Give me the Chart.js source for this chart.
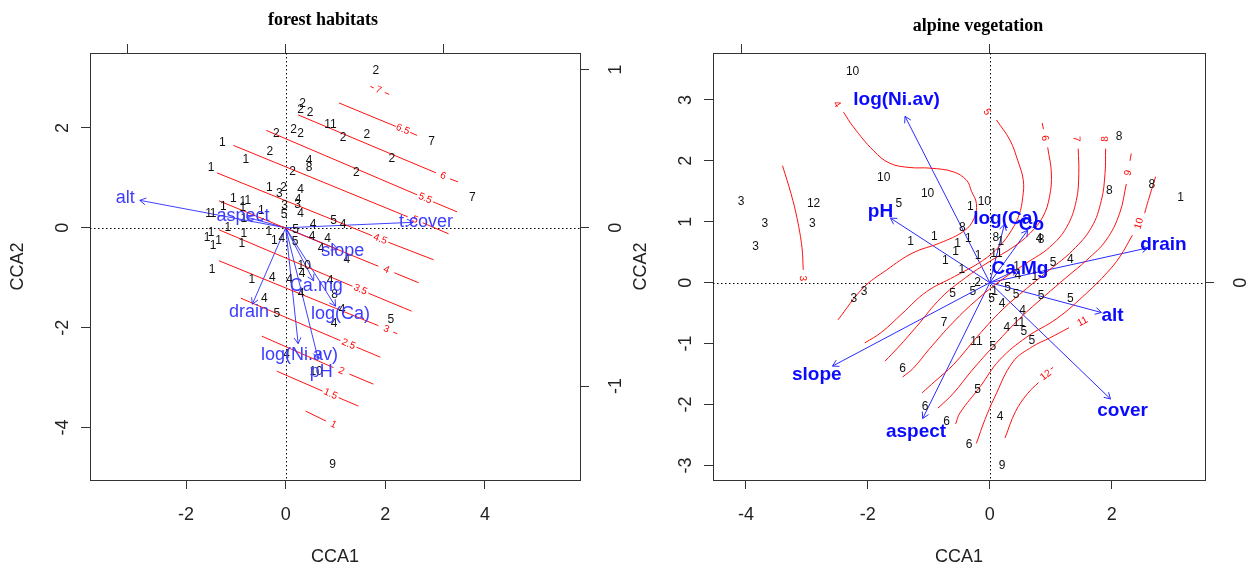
<!DOCTYPE html>
<html>
<head>
<meta charset="utf-8">
<script src="https://cdn.jsdelivr.net/npm/chart.js@4.4.1/dist/chart.umd.min.js"></script>
<style>
  html, body { margin: 0; padding: 0; background: #fff; }
  #wrap { position: relative; width: 1249px; height: 569px; }
  canvas { position: absolute; top: 0; }
  #forest { left: 0; }
  #alpine { left: 624px; }
</style>
</head>
<body>
<div id="wrap">
  <canvas id="forest" width="624" height="569"></canvas>
  <canvas id="alpine" width="625" height="569"></canvas>
</div>
<script>
// ---------- forest habitats ----------
const forestSiteX = [1.81,0.34,0.30,0.49,0.90,0.16,0.30,-0.19,1.15,1.63,2.93,-1.27,-0.32,-0.80,2.13,0.47,0.47,-1.50,0.14,1.42,-0.33,-0.04,-0.13,0.30,3.75,-1.05,-0.86,-0.76,0.25,0.24,-0.02,-1.25,-0.86,0.30,-0.03,-0.49,-1.55,-1.46,-0.84,0.55,0.96,1.15,-1.16,-0.84,-0.34,-1.50,-1.58,-1.35,-1.46,-0.88,-0.23,-0.08,0.20,0.19,0.53,0.84,0.71,1.23,-1.48,0.37,0.33,-0.68,-0.27,0.08,0.89,0.31,0.98,-0.43,1.13,-0.18,2.11,0.97,0.02,0.61,0.94];
const forestSiteY = [3.14,2.48,2.37,2.31,2.07,1.97,1.88,1.88,1.80,1.86,1.72,1.70,1.53,1.37,1.39,1.35,1.20,1.20,1.13,1.10,0.80,0.80,0.68,0.77,0.61,0.58,0.53,0.55,0.56,0.47,0.44,0.42,0.40,0.28,0.27,0.34,0.29,0.29,0.18,0.07,0.15,0.07,0.00,-0.11,-0.07,-0.09,-0.20,-0.26,-0.36,-0.31,-0.26,-0.22,-0.04,-0.27,-0.17,-0.22,-0.42,-0.64,-0.84,-0.75,-0.91,-1.04,-1.00,-1.04,-1.06,-1.31,-1.34,-1.41,-1.64,-1.72,-1.84,-1.93,-2.55,-2.88,-4.74];
const forestSiteLab = ['2','2','2','2','11','2','2','2','2','2','7','1','2','1','2','4','8','1','2','2','1','2','3','4','7','1','1','1','4','3','3','1','1','4','5','1','1','1','1','4','5','4','1','1','1','1','1','1','1','1','1','4','5','5','4','4','4','4','1','10','4','1','4','4','4','4','8','4','4','5','5','4','4','10','9'];

const forestVars = ['alt','aspect','t.cover','slope','Ca.mg','log(Ca)','drain','log(Ni.av)','pH'];
const forestVarX = [-2.93,-0.78,2.56,1.04,0.56,1.00,-0.67,0.25,0.65];
const forestVarY = [0.55,0.21,0.11,-0.43,-1.06,-1.57,-1.53,-2.32,-2.62];

const forestLevels = ['7','6.5','6','5.5','5','4.5','4','3.5','3','2.5','2','1.5','1'];
// null splits a contour where its label sits
const forestPaths = [
  [[1.70,2.83],[1.77,2.80],null,[1.99,2.71],[2.08,2.67]],
  [[1.07,2.50],[2.21,2.03],null,[2.50,1.91],[2.64,1.85]],
  [[0.25,2.26],[3.02,1.10],null,[3.30,0.98],[3.46,0.92]],
  [[-0.39,1.95],[2.64,0.66],null,[2.96,0.52],[3.44,0.32]],
  [[-1.05,1.65],[2.45,0.22],null,[2.75,0.10],[3.27,-0.12]],
  [[-1.38,1.10],[1.74,-0.16],null,[2.06,-0.29],[2.97,-0.64]],
  [[-1.34,0.54],[1.86,-0.77],null,[2.18,-0.90],[2.67,-1.10]],
  [[-1.34,-0.04],[1.34,-1.17],null,[1.66,-1.31],[2.53,-1.67]],
  [[-1.34,-0.66],[1.86,-1.96],null,[2.16,-2.09],[2.24,-2.12]],
  [[-0.90,-1.41],[1.10,-2.26],null,[1.42,-2.39],[1.90,-2.59]],
  [[-0.48,-2.17],[0.96,-2.80],null,[1.28,-2.93],[1.76,-3.13]],
  [[-0.18,-2.87],[0.74,-3.27],null,[1.06,-3.40],[1.46,-3.57]],
  [[0.40,-3.67],[0.81,-3.87]]
];
const forestLabelAt = [[1.86,2.76],[2.35,1.97],[3.16,1.04],[2.80,0.59],[2.60,0.16],[1.90,-0.23],[2.02,-0.84],[1.50,-1.24],[2.02,-2.03],[1.26,-2.33],[1.12,-2.87],[0.90,-3.33],[0.96,-3.94]];

const forestTicksX = [-2, 0, 2, 4];
const forestTicksY = [-4, -2, 0, 2];
const forestTicksTop = [-1, 0, 1];
const forestTicksRight = [-1, 0, 1];

// ---------- alpine vegetation ----------
const alpineSiteX = [-2.25,-1.74,-1.02,-4.08,-2.89,-1.49,-0.32,-0.09,-3.69,-2.91,-0.45,-3.84,-1.30,-0.91,-0.53,-0.35,-0.56,-0.73,-0.19,-0.46,0.10,0.18,0.11,0.81,0.84,2.12,1.96,2.66,3.13,1.04,1.32,0.44,0.46,-2.06,-2.23,-0.20,-0.61,-0.28,0.08,0.03,0.29,0.43,0.20,0.84,1.32,0.54,-0.75,0.28,0.48,0.56,0.69,-0.22,0.05,-1.43,-0.20,-1.06,-0.71,0.17,-0.34,0.20,0.74];
const alpineSiteY = [3.47,1.72,1.46,1.33,1.29,1.30,1.24,1.33,0.97,0.97,0.90,0.59,0.68,0.75,0.64,0.72,0.50,0.36,0.45,0.22,0.74,0.67,0.47,0.72,0.70,2.39,1.51,1.60,1.39,0.32,0.38,0.27,0.12,-0.15,-0.26,0.00,-0.18,-0.15,-0.15,-0.26,-0.09,-0.20,-0.34,-0.22,-0.26,-0.46,-0.66,-0.74,-0.66,-0.81,-0.96,-0.97,-1.05,-1.42,-1.75,-2.03,-2.28,-2.20,-2.66,-3.00,0.09];
const alpineSiteLab = ['10','10','10','3','12','5','1','10','3','3','8','3','1','1','1','1','1','1','1','1','8','1','11','4','8','8','8','8','1','5','4','1','4','3','3','2','5','5','1','5','5','5','4','5','5','4','7','4','11','5','5','11','5','6','5','6','6','4','6','9','1'];

const alpineVars = ['log(Ni.av)','pH','slope','aspect','cover','alt','drain','log(Ca)','Co','Ca.Mg'];
const alpineVarX = [-1.39,-1.63,-2.58,-1.10,1.98,1.83,2.59,0.24,0.62,0.45];
const alpineVarY = [2.73,1.06,-1.37,-2.23,-1.91,-0.49,0.57,0.96,0.86,0.21];

const alpineLevels = ['3','4','5','6','7','8','9','10','11','12'];
const alpinePaths = [
  [[-3.06,0.21],[-3.08,0.57],[-3.16,1.05],[-3.26,1.46],[-3.40,1.92]],
  [[-2.40,2.80],[-2.24,2.56],[-1.91,2.17],[-1.64,1.96],[-1.31,1.89],[-0.98,1.88],[-0.60,1.82],[-0.38,1.68],[-0.30,1.50],[-0.22,1.30],[-0.26,1.05],[-0.42,0.85],[-0.82,0.65],[-1.26,0.49],[-1.69,0.21],[-2.08,-0.09],[-2.49,-0.61]],
  [[0.11,2.67],[0.33,2.34],[0.46,2.00],[0.55,1.68],[0.54,1.40],[0.48,1.11],[0.35,0.85],[0.16,0.60],[-0.12,0.36],[-0.58,0.10],[-1.04,-0.15],[-1.44,-0.51],[-1.77,-0.81],[-2.05,-0.99]],
  [[0.86,2.62],[0.88,2.52],null,[0.95,2.22],[1.01,1.80],[0.98,1.41],[0.87,1.08],[0.66,0.81],[0.38,0.58],[0.00,0.35],[-0.40,0.08],[-0.80,-0.25],[-1.20,-0.72],[-1.50,-1.06],[-1.72,-1.29]],
  [[1.45,2.20],[1.46,1.79],[1.42,1.35],[1.26,0.91],[0.98,0.58],[0.60,0.32],[0.20,0.05],[-0.20,-0.27],[-0.60,-0.65],[-1.00,-1.10],[-1.25,-1.40],[-1.43,-1.55]],
  [[1.90,2.20],[1.89,1.79],[1.83,1.35],[1.67,0.91],[1.36,0.53],[0.98,0.21],[0.60,-0.10],[0.20,-0.45],[-0.20,-0.88],[-0.60,-1.35],[-0.90,-1.62],[-1.11,-1.81]],
  [[2.32,2.12],[2.30,2.00],null,[2.24,1.62],[2.13,1.14],[1.91,0.70],[1.59,0.37],[1.26,0.09],[0.90,-0.22],[0.50,-0.58],[0.10,-1.00],[-0.30,-1.45],[-0.60,-1.82],[-0.85,-2.06]],
  [[2.72,1.74],[2.60,1.35],[2.54,1.14],null,[2.34,0.78],[2.13,0.42],[1.92,0.16],[1.59,-0.17],[1.10,-0.59],[0.61,-0.89],[0.16,-1.27],[-0.16,-1.71],[-0.49,-2.14],[-0.56,-2.32]],
  [[-0.22,-2.64],[-0.08,-2.25],[0.08,-1.88],[0.38,-1.30],[0.70,-1.05],[0.98,-0.91],[1.30,-0.74]],
  [[0.25,-2.55],[0.42,-2.12],[0.62,-1.82],[0.80,-1.64],null,[1.00,-1.42],[1.04,-1.39]]
];
const alpineLabelAt = [[-3.07,0.07],[-2.51,2.93],[-0.05,2.80],[0.90,2.37],[1.42,2.36],[1.89,2.36],[2.27,1.80],[2.45,0.97],[1.52,-0.64],[0.92,-1.52]];

const alpineTicksX = [-4, -2, 0, 2];
const alpineTicksY = [-3, -2, -1, 0, 1, 2, 3];
const alpineTicksTop = [-1, 0];
const alpineTicksRight = [0];

const SANS = '"Liberation Sans", Arial, sans-serif';
const SERIF = '"Liberation Serif", "Times New Roman", serif';

function axis(pos, min, max, ticks, size) {
  return {
    type: 'linear',
    position: pos,
    min: min,
    max: max,
    afterBuildTicks: s => { s.ticks = ticks.map(v => ({ value: v })); },
    afterFit: s => { if (s.isHorizontal()) s.height = size; else s.width = size; },
    ticks: { display: false },
    grid: { drawOnChartArea: false, drawTicks: true, tickLength: 9, color: '#333', lineWidth: 1 },
    border: { display: true, color: '#333', width: 1 }
  };
}

// angle of the contour next to its label, kept readable (never upside down)
function pathAngle(pts, px, py) {
  let best = -1, bd = Infinity;
  pts.forEach((p, i) => {
    if (p.skip) return;
    const d = (p.x - px) ** 2 + (p.y - py) ** 2;
    if (d < bd) { bd = d; best = i; }
  });
  const nb = [best - 1, best + 1].filter(i => pts[i] && !pts[i].skip);
  if (!nb.length) return 0;
  let j = nb[0];
  if (nb.length === 2) {
    const d0 = (pts[nb[0]].x - px) ** 2 + (pts[nb[0]].y - py) ** 2;
    const d1 = (pts[nb[1]].x - px) ** 2 + (pts[nb[1]].y - py) ** 2;
    j = d0 < d1 ? nb[0] : nb[1];
  }
  const a = pts[Math.max(best, j)], b = pts[Math.min(best, j)];
  let ang = Math.atan2(a.y - b.y, a.x - b.x);
  if (ang > Math.PI / 2) ang -= Math.PI;
  if (ang < -Math.PI / 2) ang += Math.PI;
  return ang;
}

function rotText(ctx, s, x, y) {
  ctx.save();
  ctx.translate(x, y);
  ctx.rotate(-Math.PI / 2);
  ctx.fillText(s, 0, 0);
  ctx.restore();
}

function ordiPlugin(o) {
  return {
    id: 'ordi',
    beforeDatasetsDraw(chart) {
      const { ctx, chartArea: a } = chart;
      const x0 = Math.round(chart.scales.x.getPixelForValue(0)) + 0.5;
      const y0 = Math.round(chart.scales.y.getPixelForValue(0)) + 0.5;
      ctx.save();
      ctx.strokeStyle = '#000';
      ctx.lineWidth = 1;
      ctx.setLineDash([1.5, 2.5]);
      ctx.beginPath();
      ctx.moveTo(x0, a.top); ctx.lineTo(x0, a.bottom);
      ctx.moveTo(a.left, y0); ctx.lineTo(a.right, y0);
      ctx.stroke();
      ctx.restore();
    },
    afterDatasetsDraw(chart) {
      const { ctx } = chart;
      const xs = chart.scales.x, ys = chart.scales.y;
      ctx.save();
      ctx.textAlign = 'center';
      ctx.textBaseline = 'middle';
      chart.data.datasets.forEach((ds, di) => {
        const meta = chart.getDatasetMeta(di);
        if (ds.role === 'contour') {
          const [lx, ly] = o.labelAt[ds.idx];
          const px = xs.getPixelForValue(lx), py = ys.getPixelForValue(ly);
          ctx.save();
          ctx.translate(px, py);
          ctx.rotate(pathAngle(meta.data, px, py));
          ctx.font = '10px ' + SANS;
          ctx.fillStyle = '#ff0000';
          ctx.fillText(o.levels[ds.idx], 0, 0);
          ctx.restore();
        } else if (ds.role === 'site') {
          ctx.font = '12px ' + SANS;
          ctx.fillStyle = '#111';
          meta.data.forEach((p, i) => ctx.fillText(o.siteLab[i], p.x, p.y));
        }
      });
      chart.data.datasets.forEach((ds, di) => {
        if (ds.role !== 'arrow') return;
        const meta = chart.getDatasetMeta(di);
        const p0 = meta.data[0], p1 = meta.data[1];
        const ang = Math.atan2(p1.y - p0.y, p1.x - p0.x);
        const L = 7;
        ctx.strokeStyle = o.arrowColor;
        ctx.lineWidth = 1;
        ctx.beginPath();
        ctx.moveTo(p1.x - L * Math.cos(ang - Math.PI / 6), p1.y - L * Math.sin(ang - Math.PI / 6));
        ctx.lineTo(p1.x, p1.y);
        ctx.lineTo(p1.x - L * Math.cos(ang + Math.PI / 6), p1.y - L * Math.sin(ang + Math.PI / 6));
        ctx.stroke();
        // variable names sit a little beyond the arrow tips
        ctx.font = o.varFont;
        ctx.fillStyle = o.varColor;
        ctx.fillText(o.vars[ds.idx], xs.getPixelForValue(o.varX[ds.idx] * 1.1), ys.getPixelForValue(o.varY[ds.idx] * 1.1));
      });
      ctx.restore();
    },
    afterDraw(chart) {
      const { ctx, chartArea: a, scales } = chart;
      ctx.save();
      ctx.fillStyle = '#222';
      ctx.textAlign = 'center';
      ctx.textBaseline = 'middle';
      ctx.font = '18px ' + SANS;
      scales.x.ticks.forEach(t => ctx.fillText(String(t.value), scales.x.getPixelForValue(t.value), a.bottom + 35));
      scales.y.ticks.forEach(t => rotText(ctx, String(t.value), a.left - 27, scales.y.getPixelForValue(t.value)));
      scales.y2.ticks.forEach(t => rotText(ctx, String(t.value), a.right + 36, scales.y2.getPixelForValue(t.value)));
      ctx.fillText('CCA1', (a.left + a.right) / 2, a.bottom + 77);
      rotText(ctx, 'CCA2', a.left - 72, (a.top + a.bottom) / 2);
      ctx.fillStyle = '#000';
      ctx.font = 'bold 18px ' + SERIF;
      ctx.fillText(o.title, o.titleX, o.titleY);
      ctx.restore();
    }
  };
}

function makePlot(id, o) {
  const datasets = [];
  o.paths.forEach((p, i) => datasets.push({
    type: 'line', role: 'contour', idx: i, xAxisID: 'x', yAxisID: 'y',
    data: p.map(q => q ? { x: q[0], y: q[1] } : { x: null, y: null }),
    borderColor: '#ff1010', borderWidth: 1, pointRadius: 0,
    tension: o.tension, spanGaps: false, fill: false
  }));
  o.vars.forEach((v, i) => datasets.push({
    type: 'line', role: 'arrow', idx: i, xAxisID: 'x', yAxisID: 'y',
    data: [{ x: 0, y: 0 }, { x: o.varX[i], y: o.varY[i] }],
    borderColor: o.arrowColor, borderWidth: 1, pointRadius: 0, fill: false
  }));
  datasets.push({
    type: 'scatter', role: 'site', xAxisID: 'x', yAxisID: 'y',
    data: o.siteX.map((x, i) => ({ x: x, y: o.siteY[i] })),
    pointRadius: 0
  });

  return new Chart(document.getElementById(id), {
    type: 'scatter',
    data: { datasets: datasets },
    options: {
      responsive: false,
      animation: false,
      events: [],
      layout: { padding: 0 },
      plugins: { legend: { display: false }, tooltip: { enabled: false }, title: { display: false } },
      scales: {
        x: axis('bottom', o.xlim[0], o.xlim[1], o.ticksX, o.pad[3]),
        y: axis('left', o.ylim[0], o.ylim[1], o.ticksY, o.pad[0]),
        x2: axis('top', o.xlim[0] / o.mul, o.xlim[1] / o.mul, o.ticksTop, o.pad[2]),
        y2: axis('right', o.ylim[0] / o.mul, o.ylim[1] / o.mul, o.ticksRight, o.pad[1])
      }
    },
    plugins: [ordiPlugin(o)]
  });
}

makePlot('forest', {
  title: 'forest habitats', titleX: 323, titleY: 20,
  xlim: [-3.93, 5.91], ylim: [-5.05, 3.50], mul: 3.17,
  pad: [90, 44, 53, 89],
  ticksX: forestTicksX, ticksY: forestTicksY, ticksTop: forestTicksTop, ticksRight: forestTicksRight,
  siteX: forestSiteX, siteY: forestSiteY, siteLab: forestSiteLab,
  vars: forestVars, varX: forestVarX, varY: forestVarY,
  levels: forestLevels, paths: forestPaths, labelAt: forestLabelAt,
  tension: 0,
  arrowColor: 'rgba(30,30,255,0.85)', varColor: '#3c3cff', varFont: '18px ' + SANS
});

makePlot('alpine', {
  title: 'alpine vegetation', titleX: 354, titleY: 26,
  xlim: [-4.54, 3.53], ylim: [-3.24, 3.77], mul: 4.08,
  pad: [89, 44, 53, 89],
  ticksX: alpineTicksX, ticksY: alpineTicksY, ticksTop: alpineTicksTop, ticksRight: alpineTicksRight,
  siteX: alpineSiteX, siteY: alpineSiteY, siteLab: alpineSiteLab,
  vars: alpineVars, varX: alpineVarX, varY: alpineVarY,
  levels: alpineLevels, paths: alpinePaths, labelAt: alpineLabelAt,
  tension: 0.4,
  arrowColor: '#2a2aff', varColor: '#0a0aff', varFont: 'bold 19px ' + SANS
});
</script>
</body>
</html>
